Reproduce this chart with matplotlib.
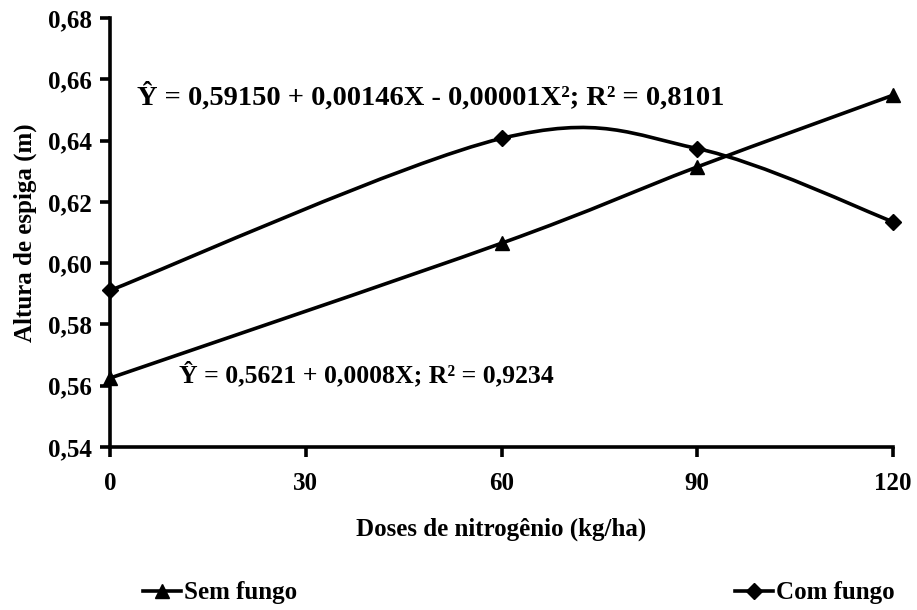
import numpy as np
import matplotlib
matplotlib.use("Agg")
import matplotlib.pyplot as plt
from matplotlib.path import Path
from matplotlib.patches import PathPatch
from matplotlib.lines import Line2D
from matplotlib.ticker import FuncFormatter

# doses de N e altura de espiga
doses = [0, 60, 90, 120]
sem_fungo = [0.5625, 0.6065, 0.6314, 0.6548]
com_fungo = [0.5911, 0.6407, 0.6374, 0.6135]

eq_sem = "Ŷ = 0,5621 + 0,0008X; R² = 0,9234"
eq_com = "Ŷ = 0,59150 + 0,00146X - 0,00001X²; R² = 0,8101"

plt.rcParams['font.family'] = ['Liberation Serif', 'DejaVu Serif']
plt.rcParams['font.weight'] = 'bold'


def curva_suave(x, y):
    # linha suavizada estilo Excel (Bezier cubica)
    p = np.column_stack([x, y]).astype(float)
    n = len(p)
    verts = [p[0]]
    codes = [Path.MOVETO]
    for i in range(n - 1):
        p0 = p[i - 1] if i > 0 else p[i]
        p3 = p[i + 2] if i + 2 < n else p[i + 1]
        c1 = p[i] + (p[i + 1] - p0) / 6
        c2 = p[i + 1] - (p3 - p[i]) / 6
        verts += [c1, c2, p[i + 1]]
        codes += [Path.CURVE4] * 3
    return Path(verts, codes)


fig = plt.figure(figsize=(9.17, 6.10), dpi=100)
ax = fig.add_axes([0.12, 0.2672, 0.8538, 0.7033])

for y, mk, ms in [(sem_fungo, '^', 10.5), (com_fungo, 'D', 8.5)]:
    ax.add_patch(PathPatch(curva_suave(doses, y), fill=False, lw=2.6,
                           edgecolor='black', zorder=3))
    ax.plot(doses, y, ls='none', marker=mk, ms=ms, color='black',
            clip_on=False, zorder=4)

ax.set_xlim(0, 120)
ax.set_ylim(0.54, 0.68)
ax.set_xticks([0, 30, 60, 90, 120])
ax.set_yticks(np.arange(0.54, 0.681, 0.02))
ax.yaxis.set_major_formatter(FuncFormatter(lambda v, p: f"{v:.2f}".replace('.', ',')))

for s in ['top', 'right']:
    ax.spines[s].set_visible(False)
for s in ['left', 'bottom']:
    ax.spines[s].set_linewidth(2.6)
ax.tick_params(axis='both', direction='out', length=7, width=2.6,
               labelsize=18, pad=6)
for lab in ax.get_xticklabels() + ax.get_yticklabels():
    lab.set_fontweight('bold')
ax.tick_params(axis='x', pad=11)

ax.set_xlabel("Doses de nitrogênio (kg/ha)", fontsize=18, fontweight='bold',
              labelpad=16)
ax.set_ylabel("Altura de espiga (m)", fontsize=18, fontweight='bold',
              labelpad=8)

ax.text(4.2, 0.6518, eq_com, fontsize=20.5, fontweight='bold')
ax.text(10.6, 0.5610, eq_sem, fontsize=18.5, fontweight='bold')

handles = [Line2D([], [], color='black', lw=2.6, marker='^', ms=10.5),
           Line2D([], [], color='black', lw=2.6, marker='D', ms=8.5)]
fig.legend(handles, ["Sem fungo", "Com fungo"], loc='center',
           bbox_to_anchor=(0.566, 0.028), ncol=2, frameon=False,
           handlelength=1.5, handletextpad=0.15,
           columnspacing=17.5, prop={'weight': 'bold', 'size': 18})

fig.savefig("out.png", dpi=100)
